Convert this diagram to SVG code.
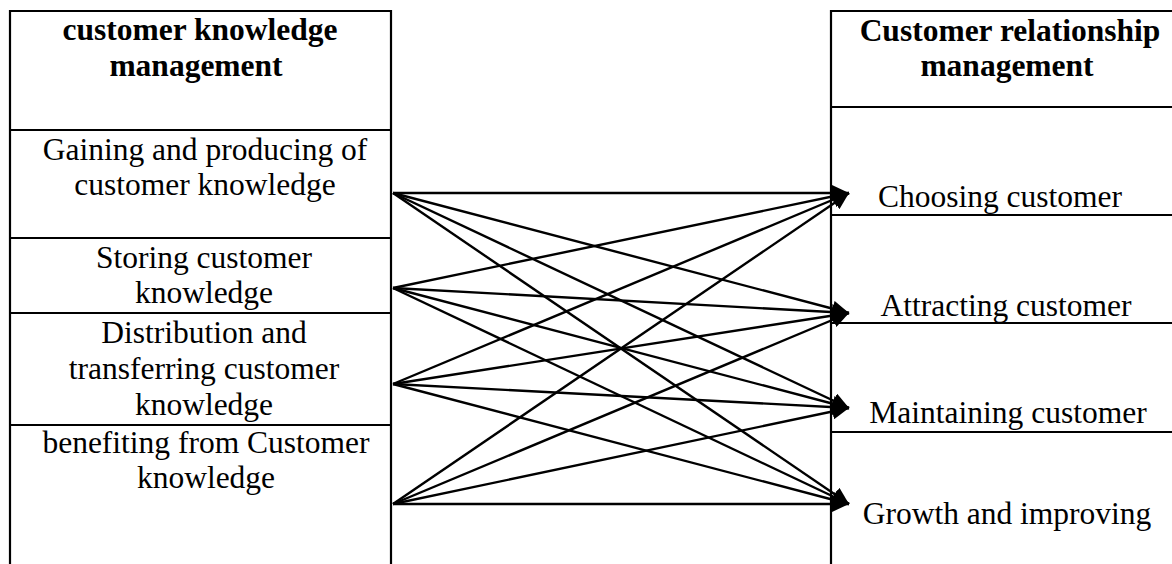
<svg xmlns="http://www.w3.org/2000/svg" width="1172" height="564" viewBox="0 0 1172 564">
<style>
  .frame{fill:none;stroke:#000;stroke-width:2.2}
  .t{font-family:"Liberation Serif","Times New Roman",serif;font-size:31.5px;fill:#000;text-anchor:middle}
  .b{font-weight:bold}
  .c{stroke:#000;stroke-width:2.4;fill:none;marker-end:url(#ah)}
</style>
<defs>
  <marker id="ah" markerUnits="userSpaceOnUse" markerWidth="18" markerHeight="16" refX="17" refY="8" orient="auto" viewBox="0 0 18 16">
    <path d="M0,0 L17,8 L0,16 z" fill="#000"/>
  </marker>
</defs>
<g id="ckm">
  <path class="frame" d="M10,564 V11 H391 V564"/>
  <text class="t b" x="200" y="40">customer knowledge</text>
  <text class="t b" x="196" y="76">management</text>
  <line class="frame" x1="10" y1="130" x2="391" y2="130"/>
</g>
<g id="gaining">
  <text class="t" x="205" y="160">Gaining and producing of</text>
  <text class="t" x="205" y="195">customer knowledge</text>
  <line class="frame" x1="10" y1="238" x2="391" y2="238"/>
</g>
<g id="storing">
  <text class="t" x="204" y="268">Storing customer</text>
  <text class="t" x="204" y="303">knowledge</text>
  <line class="frame" x1="10" y1="313" x2="391" y2="313"/>
</g>
<g id="distribution">
  <text class="t" x="204" y="343">Distribution and</text>
  <text class="t" x="204" y="379">transferring customer</text>
  <text class="t" x="204" y="415">knowledge</text>
  <line class="frame" x1="10" y1="425" x2="391" y2="425"/>
</g>
<g id="benefiting">
  <text class="t" x="206" y="453">benefiting from Customer</text>
  <text class="t" x="206" y="488">knowledge</text>
</g>
<g id="crm">
  <path class="frame" d="M831,564 V11 H1172"/>
  <text class="t b" x="1010" y="41">Customer relationship</text>
  <text class="t b" x="1007" y="76">management</text>
  <line class="frame" x1="831" y1="107" x2="1172" y2="107"/>
</g>
<g id="choosing">
  <text class="t" x="1000" y="207">Choosing customer</text>
  <line class="frame" x1="831" y1="215" x2="1172" y2="215"/>
</g>
<g id="attracting">
  <text class="t" x="1006" y="316">Attracting customer</text>
  <line class="frame" x1="831" y1="323" x2="1172" y2="323"/>
</g>
<g id="maintaining">
  <text class="t" x="1008" y="423">Maintaining customer</text>
  <line class="frame" x1="831" y1="432" x2="1172" y2="432"/>
</g>
<g id="growth">
  <text class="t" x="1007" y="524">Growth and improving</text>
</g>
<g id="connectors">
  <line class="c" x1="393" y1="193" x2="849" y2="193"/>
  <line class="c" x1="393" y1="193" x2="849" y2="313"/>
  <line class="c" x1="393" y1="193" x2="849" y2="408"/>
  <line class="c" x1="393" y1="193" x2="849" y2="504"/>
  <line class="c" x1="393" y1="288" x2="849" y2="193"/>
  <line class="c" x1="393" y1="288" x2="849" y2="313"/>
  <line class="c" x1="393" y1="288" x2="849" y2="408"/>
  <line class="c" x1="393" y1="288" x2="849" y2="504"/>
  <line class="c" x1="393" y1="384" x2="849" y2="193"/>
  <line class="c" x1="393" y1="384" x2="849" y2="313"/>
  <line class="c" x1="393" y1="384" x2="849" y2="408"/>
  <line class="c" x1="393" y1="384" x2="849" y2="504"/>
  <line class="c" x1="393" y1="504" x2="849" y2="193"/>
  <line class="c" x1="393" y1="504" x2="849" y2="313"/>
  <line class="c" x1="393" y1="504" x2="849" y2="408"/>
  <line class="c" x1="393" y1="504" x2="849" y2="504"/>
</g>
</svg>
